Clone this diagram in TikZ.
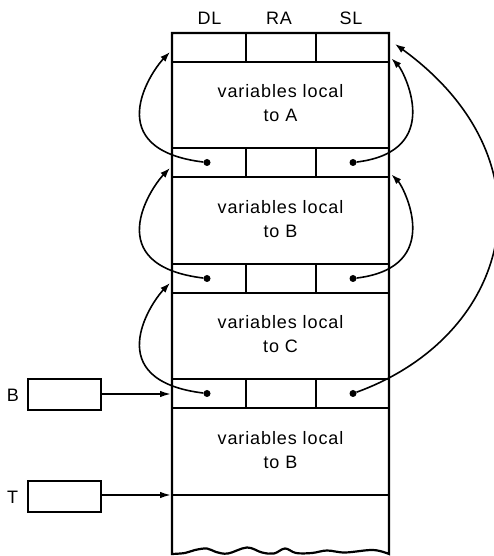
\documentclass[tikz,border=0pt]{standalone}
\usepackage{fontspec}
\setmainfont{Liberation Sans}[LetterSpace=5]
\usetikzlibrary{arrows.meta}
\begin{document}
\begin{tikzpicture}[x=1pt,y=1pt,
  stack/.style={line width=2.2pt, line join=miter},
  ptr/.style={line width=1.6pt, -{Latex[length=10pt,width=7pt]}},
  hptr/.style={line width=1.6pt, -{Latex[length=11pt,width=6.5pt]}},
  dotnode/.style={circle, fill, inner sep=0pt, minimum size=7pt},
  lbl/.style={font=\fontsize{18}{24}\selectfont, inner sep=0pt},
  regbox/.style={draw, line width=2.2pt, minimum width=73pt, minimum height=31pt, inner sep=0pt}
]
\useasboundingbox (0,0) rectangle (494,556);

% outline of the stack with torn bottom
\draw[stack] plot[smooth, tension=0.6] coordinates {(172,2) (185,3) (195,6) (207,7.5) (216,4) (228,2.5) (247,8.5) (262,3.5) (274,2.5) (285,7.5) (296,3) (312,3) (327,5.5) (345,3.5) (373,6) (389,2)} -- (389,523) -- (172,523) -- cycle;
\foreach \y in {494,408,379,292,263,177,148,61} \draw[stack] (172,\y) -- (389,\y);
\foreach \a/\b in {523/494,408/379,292/263,177/148} {
  \draw[stack] (246,\a) -- (246,\b);
  \draw[stack] (316,\a) -- (316,\b);
}

% headers
\node[lbl, anchor=base] (hDL) at (209.5,531) {DL};
\node[lbl, anchor=base] (hRA) at (279,531) {RA};
\node[lbl, anchor=base] (hSL) at (351,531) {SL};

% texts
\node[lbl, align=center] (vA) at (280.5,453) {variables local\\to A};
\node[lbl, align=center] (vB) at (280.5,337) {variables local\\to B};
\node[lbl, align=center] (vC) at (280.5,222) {variables local\\to C};
\node[lbl, align=center] (vD) at (280.5,106) {variables local\\to B};

% dots
\node[dotnode] (dl2) at (207,393.5) {};
\node[dotnode] (sl2) at (353,393.5) {};
\node[dotnode] (dl3) at (207,277.5) {};
\node[dotnode] (sl3) at (353,277.5) {};
\node[dotnode] (dl4) at (207,162.5) {};
\node[dotnode] (sl4) at (353,162.5) {};

% arrow targets
\coordinate (tl1) at (170,504);
\coordinate (tl2) at (170,388);
\coordinate (tl3) at (170,273);
\coordinate (tr1) at (391.5,497.5);
\coordinate (tr2) at (391.5,381.5);
\coordinate (tr0) at (395,512);

% dynamic links (left)
\draw[ptr] (dl2) .. controls +(173:108) and +(226:29) .. (tl1);
\draw[ptr] (dl3) .. controls +(173:108) and +(226:29) .. (tl2);
\draw[ptr] (dl4) .. controls +(173:108) and +(226:29) .. (tl3);

% static links (right)
\draw[ptr] (sl2) .. controls +(7:94) and +(-45:16) .. (tr1);
\draw[ptr] (sl3) .. controls +(7:94) and +(-45:16) .. (tr2);
\draw[ptr] (sl4) .. controls +(20:170) and +(-36:200) .. (tr0);

% registers B and T
\node[regbox] (Bbox) at (64.5,161.5) {};
\node[regbox] (Tbox) at (64.5,59.5) {};
\node[lbl] (Blab) at (13,161) {B};
\node[lbl] (Tlab) at (12.5,58.5) {T};
\coordinate (stB) at (171,162);
\coordinate (stT) at (171,61);
\draw[hptr] (Bbox.east |- stB) -- (stB);
\draw[hptr] (Tbox.east |- stT) -- (stT);
\end{tikzpicture}
\end{document}
